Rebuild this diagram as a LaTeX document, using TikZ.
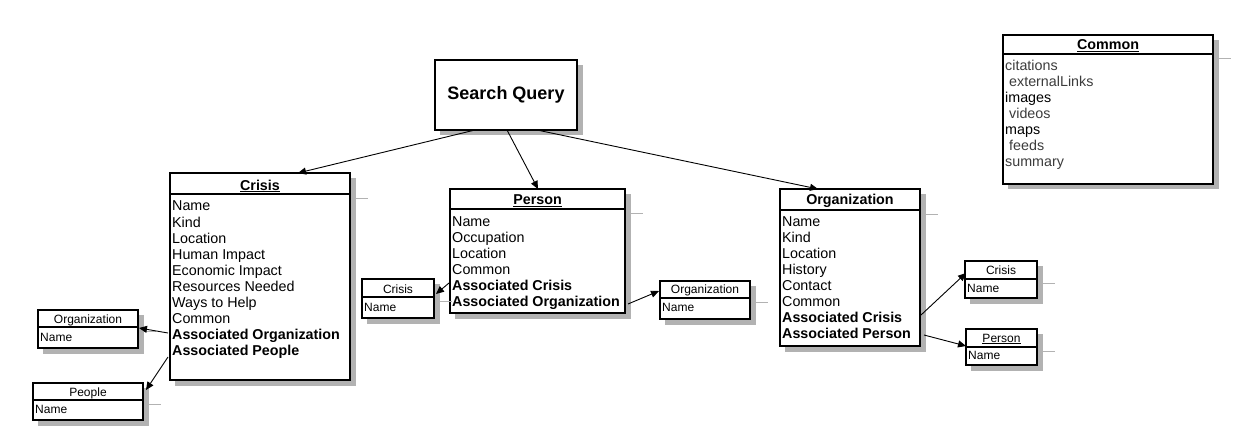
\documentclass[tikz,border=0pt]{standalone}
\usepackage{fontspec}
\setmainfont{Liberation Sans}
\usetikzlibrary{arrows.meta}
\definecolor{shadowgray}{RGB}{178,178,178}
\definecolor{softtext}{RGB}{60,60,60}
\newcommand{\boxshadow}[4]{%
  \fill[shadowgray] (#3+1,#2+5) rectangle (#3+5.5,#4+5.5);
  \fill[shadowgray] (#1+5,#4+1) rectangle (#3+5.5,#4+5.5);
}
\newcommand{\umlbox}[6]{%
  \node[box, anchor=north west, minimum width=#4-#2, minimum height=#5-#3] (#1) at (#2,#3) {};
  \boxshadow{#2}{#3}{#4}{#5}
  \draw[shadowgray, line width=0.8pt] (#4+5,#6+4) -- (#4+18,#6+4);
  \draw[line width=2pt] (#2,#6) -- (#4,#6);
}
\begin{document}
\begin{tikzpicture}[x=1pt,y=-1pt,
  box/.style={draw=black, line width=2pt, fill=white, inner sep=0pt, outer sep=0pt},
  item/.style={anchor=base west, inner sep=0pt, font=\fontsize{14.3}{16}\selectfont},
  smallhead/.style={anchor=base, inner sep=0pt, font=\fontsize{12}{14}\selectfont},
  smallitem/.style={anchor=base west, inner sep=0pt, font=\fontsize{12}{14}\selectfont},
  head/.style={anchor=base, inner sep=0pt, font=\fontsize{14.3}{16}\selectfont\bfseries},
  link/.style={draw=black, line width=0.9pt, -{Triangle[length=8pt,width=7pt]}},
]
\useasboundingbox (0,0) rectangle (1235,441);

% Search Query
\node[box, minimum width=142, minimum height=70, font=\fontsize{18}{20}\selectfont\bfseries] (sq) at (506,95) {Search Query};
\boxshadow{435}{60}{577}{130}

% Crisis
\umlbox{crisis}{170}{173}{350}{380}{194}
\node[head] (crisis-h) at (260,190) {\underline{Crisis}};
\foreach \t [count=\i] in {Name,Kind,Location,Human Impact,Economic Impact,Resources Needed,Ways to Help,Common,{\bfseries Associated Organization},{\bfseries Associated People}}
  \node[item] (crisis-\i) at (172,211+16*\i-16) {\t};

% Person
\umlbox{person}{450}{189}{625}{313}{209}
\node[head] (person-h) at (537.5,204.5) {\underline{Person}};
\foreach \t [count=\i] in {Name,Occupation,Location,Common,{\bfseries Associated Crisis},{\bfseries Associated Organization}}
  \node[item] (person-\i) at (452,226+16*\i-16) {\t};

% Organization
\umlbox{org}{780}{189}{920}{346}{210}
\node[head] (org-h) at (850,204.5) {\underline{Organization}};
\foreach \t [count=\i] in {Name,Kind,Location,History,Contact,Common,{\bfseries Associated Crisis},{\bfseries Associated Person}}
  \node[item] (org-\i) at (782,226+16*\i-16) {\t};

% Common
\umlbox{common}{1003}{35}{1213}{184}{54}
\node[head] (common-h) at (1108,50) {\underline{Common}};
\node[item, text=softtext] (common-1) at (1005,71) {citations};
\node[item, text=softtext] (common-2) at (1009,87) {externalLinks};
\node[item] (common-3) at (1005,103) {images};
\node[item, text=softtext] (common-4) at (1009,119) {videos};
\node[item] (common-5) at (1005,135) {maps};
\node[item, text=softtext] (common-6) at (1009,151) {feeds};
\node[item, text=softtext] (common-7) at (1005,167) {summary};

% small boxes
\umlbox{orgL}{38}{310}{138}{348}{327}
\node[smallhead] (orgL-h) at (88,323) {Organization};
\node[smallitem] (orgL-1) at (40,341) {Name};

\umlbox{people}{33}{383}{143}{420}{400}
\node[smallhead] (people-h) at (88,396) {People};
\node[smallitem] (people-1) at (35,413) {Name};

\umlbox{cp}{362}{279}{434}{318}{297}
\node[smallhead] (cp-h) at (398,293) {Crisis};
\node[smallitem] (cp-1) at (364,311) {Name};

\umlbox{po}{660}{281}{750}{319}{298}
\node[smallhead] (po-h) at (705,293) {Organization};
\node[smallitem] (po-1) at (662,311) {Name};

\umlbox{oc}{965}{261}{1037}{298}{279}
\node[smallhead] (oc-h) at (1001,274) {Crisis};
\node[smallitem] (oc-1) at (967,292) {Name};

\umlbox{op}{966}{329}{1037}{365}{347}
\node[smallhead] (op-h) at (1001.5,342) {\underline{Person}};
\node[smallitem] (op-1) at (968,359) {Name};

% connectors
\draw[link] ([xshift=40pt]sq.south west) -- ([xshift=128pt]crisis.north west);
\draw[link] ([xshift=72pt]sq.south west) -- ([xshift=88pt]person.north west);
\draw[link] ([xshift=102pt]sq.south west) -- ([xshift=38pt]org.north west);
\draw[link] ([xshift=-2pt,yshift=-160pt]crisis.north west) -- ([xshift=1pt,yshift=-18pt]orgL.north east);
\draw[link] ([xshift=-2pt,yshift=-184pt]crisis.north west) -- ([xshift=3pt,yshift=-7pt]people.north east);
\draw[link] ([xshift=-1pt,yshift=-94pt]person.north west) -- ([xshift=2pt,yshift=-15pt]cp.north east);
\draw[link] ([xshift=3pt,yshift=-115pt]person.north east) -- ([xshift=-1pt,yshift=-10pt]po.north west);
\draw[link] ([xshift=1pt,yshift=-126pt]org.north east) -- ([xshift=1pt,yshift=-12pt]oc.north west);
\draw[link] ([xshift=4pt,yshift=-146pt]org.north east) -- ([xshift=0pt,yshift=-17pt]op.north west);
\end{tikzpicture}
\end{document}
